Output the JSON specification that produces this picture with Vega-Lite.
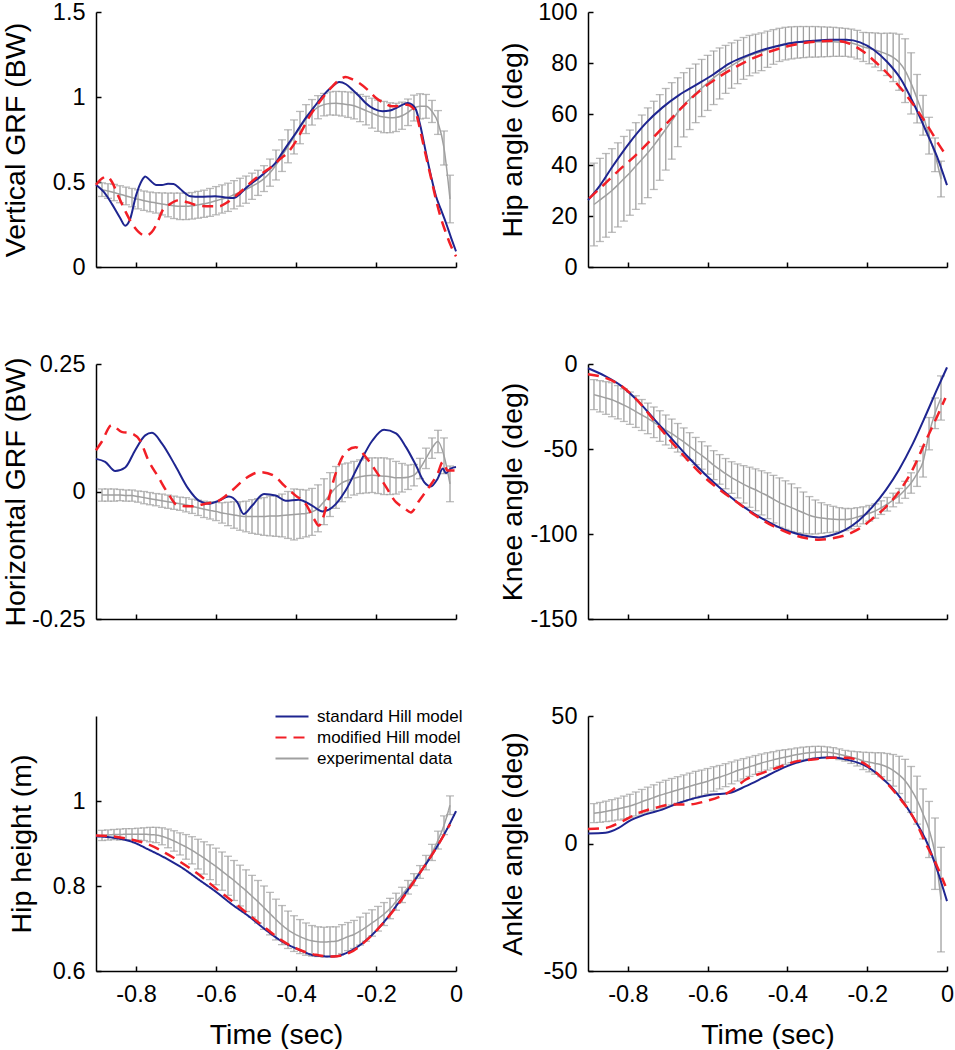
{
"$schema": "https://vega.github.io/schema/vega-lite/v6.json",
"padding": {"left": 0, "top": 0, "right": 0, "bottom": 0},
"autosize": {"type": "pad"},
"bounds": "flush",
"columns": 2,
"spacing": {"row": 97, "column": 132},
"resolve": {"scale": {"color": "independent", "strokeDash": "independent"}, "legend": {"color": "independent", "strokeDash": "independent"}},
"concat": [
  {"width": 360, "height": 255,
   "encoding": {"x": {"field": "t", "type": "quantitative", "scale": {"domain": [-0.9, 0], "nice": false, "zero": false}, "axis": {"values": [-0.8, -0.6, -0.4, -0.2, 0], "labels": false, "title": null}}},
   "layer": [
    {"data": {"name": "exp"}, "mark": {"type": "errorbar", "color": "#a0a0a0", "thickness": 1.3, "ticks": {"size": 8, "thickness": 1.3, "color": "#a0a0a0"}},
     "encoding": {"y": {"field": "vg_m", "type": "quantitative", "scale": {"domain": [0, 1.5], "nice": false, "zero": false}, "axis": {"values": [0, 0.5, 1, 1.5], "title": "Vertical GRF (BW)", "titlePadding": 66, "labelExpr": "''+datum.value"}}, "yError": {"field": "vg_e"}}},
    {"data": {"name": "exp"}, "mark": {"type": "line", "color": "#a0a0a0", "strokeWidth": 1.5},
     "encoding": {"y": {"field": "vg_m", "type": "quantitative", "scale": {"domain": [0, 1.5], "nice": false, "zero": false}}}},
    {"data": {"name": "vg_s"}, "mark": {"type": "line", "color": "#1e2590", "strokeWidth": 2},
     "encoding": {"y": {"field": "v", "type": "quantitative", "scale": {"domain": [0, 1.5], "nice": false, "zero": false}}}},
    {"data": {"name": "vg_m"}, "mark": {"type": "line", "color": "#f21f26", "strokeWidth": 2.5, "strokeDash": [11, 7]},
     "encoding": {"y": {"field": "v", "type": "quantitative", "scale": {"domain": [0, 1.5], "nice": false, "zero": false}}}}
   ]},
  {"width": 359, "height": 255,
   "encoding": {"x": {"field": "t", "type": "quantitative", "scale": {"domain": [-0.9, 0], "nice": false, "zero": false}, "axis": {"values": [-0.8, -0.6, -0.4, -0.2, 0], "labels": false, "title": null}}},
   "layer": [
    {"data": {"name": "exp"}, "mark": {"type": "errorbar", "color": "#a0a0a0", "thickness": 1.3, "ticks": {"size": 8, "thickness": 1.3, "color": "#a0a0a0"}},
     "encoding": {"y": {"field": "ha_m", "type": "quantitative", "scale": {"domain": [0, 100], "nice": false, "zero": false}, "axis": {"values": [0, 20, 40, 60, 80, 100], "title": "Hip angle (deg)", "titlePadding": 61, "labelExpr": "''+datum.value"}}, "yError": {"field": "ha_e"}}},
    {"data": {"name": "exp"}, "mark": {"type": "line", "color": "#a0a0a0", "strokeWidth": 1.5},
     "encoding": {"y": {"field": "ha_m", "type": "quantitative", "scale": {"domain": [0, 100], "nice": false, "zero": false}}}},
    {"data": {"name": "ha_s"}, "mark": {"type": "line", "color": "#1e2590", "strokeWidth": 2},
     "encoding": {"y": {"field": "v", "type": "quantitative", "scale": {"domain": [0, 100], "nice": false, "zero": false}}}},
    {"data": {"name": "ha_m"}, "mark": {"type": "line", "color": "#f21f26", "strokeWidth": 2.5, "strokeDash": [11, 7]},
     "encoding": {"y": {"field": "v", "type": "quantitative", "scale": {"domain": [0, 100], "nice": false, "zero": false}}}}
   ]},
  {"width": 360, "height": 255,
   "encoding": {"x": {"field": "t", "type": "quantitative", "scale": {"domain": [-0.9, 0], "nice": false, "zero": false}, "axis": {"values": [-0.8, -0.6, -0.4, -0.2, 0], "labels": false, "title": null}}},
   "layer": [
    {"data": {"name": "exp"}, "mark": {"type": "errorbar", "color": "#a0a0a0", "thickness": 1.3, "ticks": {"size": 8, "thickness": 1.3, "color": "#a0a0a0"}},
     "encoding": {"y": {"field": "hg_m", "type": "quantitative", "scale": {"domain": [-0.25, 0.25], "nice": false, "zero": false}, "axis": {"values": [-0.25, 0, 0.25], "title": "Horizontal GRF (BW)", "titlePadding": 66, "labelExpr": "''+datum.value"}}, "yError": {"field": "hg_e"}}},
    {"data": {"name": "exp"}, "mark": {"type": "line", "color": "#a0a0a0", "strokeWidth": 1.5},
     "encoding": {"y": {"field": "hg_m", "type": "quantitative", "scale": {"domain": [-0.25, 0.25], "nice": false, "zero": false}}}},
    {"data": {"values": [{"zero": 0}]}, "mark": {"type": "rule", "color": "#000000", "strokeWidth": 1}, "encoding": {"y": {"field": "zero", "type": "quantitative", "scale": {"domain": [-0.25, 0.25], "nice": false, "zero": false}}}},
    {"data": {"name": "hg_s"}, "mark": {"type": "line", "color": "#1e2590", "strokeWidth": 2},
     "encoding": {"y": {"field": "v", "type": "quantitative", "scale": {"domain": [-0.25, 0.25], "nice": false, "zero": false}}}},
    {"data": {"name": "hg_m"}, "mark": {"type": "line", "color": "#f21f26", "strokeWidth": 2.5, "strokeDash": [11, 7]},
     "encoding": {"y": {"field": "v", "type": "quantitative", "scale": {"domain": [-0.25, 0.25], "nice": false, "zero": false}}}}
   ]},
  {"width": 359, "height": 255,
   "encoding": {"x": {"field": "t", "type": "quantitative", "scale": {"domain": [-0.9, 0], "nice": false, "zero": false}, "axis": {"values": [-0.8, -0.6, -0.4, -0.2, 0], "labels": false, "title": null}}},
   "layer": [
    {"data": {"name": "exp"}, "mark": {"type": "errorbar", "color": "#a0a0a0", "thickness": 1.3, "ticks": {"size": 8, "thickness": 1.3, "color": "#a0a0a0"}},
     "encoding": {"y": {"field": "ka_m", "type": "quantitative", "scale": {"domain": [-150, 0], "nice": false, "zero": false}, "axis": {"values": [-150, -100, -50, 0], "title": "Knee angle (deg)", "titlePadding": 61, "labelExpr": "''+datum.value"}}, "yError": {"field": "ka_e"}}},
    {"data": {"name": "exp"}, "mark": {"type": "line", "color": "#a0a0a0", "strokeWidth": 1.5},
     "encoding": {"y": {"field": "ka_m", "type": "quantitative", "scale": {"domain": [-150, 0], "nice": false, "zero": false}}}},
    {"data": {"name": "ka_s"}, "mark": {"type": "line", "color": "#1e2590", "strokeWidth": 2},
     "encoding": {"y": {"field": "v", "type": "quantitative", "scale": {"domain": [-150, 0], "nice": false, "zero": false}}}},
    {"data": {"name": "ka_m"}, "mark": {"type": "line", "color": "#f21f26", "strokeWidth": 2.5, "strokeDash": [11, 7]},
     "encoding": {"y": {"field": "v", "type": "quantitative", "scale": {"domain": [-150, 0], "nice": false, "zero": false}}}}
   ]},
  {"width": 360, "height": 255,
   "encoding": {"x": {"field": "t", "type": "quantitative", "scale": {"domain": [-0.9, 0], "nice": false, "zero": false}, "axis": {"values": [-0.8, -0.6, -0.4, -0.2, 0], "title": "Time (sec)", "labelExpr": "''+datum.value"}}},
   "layer": [
    {"data": {"name": "exp"}, "mark": {"type": "errorbar", "color": "#a0a0a0", "thickness": 1.3, "ticks": {"size": 8, "thickness": 1.3, "color": "#a0a0a0"}},
     "encoding": {"y": {"field": "hh_m", "type": "quantitative", "scale": {"domain": [0.6, 1.2], "nice": false, "zero": false}, "axis": {"values": [0.6, 0.8, 1], "title": "Hip height (m)", "titlePadding": 60, "labelExpr": "''+datum.value"}}, "yError": {"field": "hh_e"}}},
    {"data": {"name": "exp"}, "mark": {"type": "line", "strokeWidth": 1.5},
     "encoding": {"y": {"field": "hh_m", "type": "quantitative", "scale": {"domain": [0.6, 1.2], "nice": false, "zero": false}},
      "color": {"datum": "experimental data", "type": "nominal", "scale": {"domain": ["standard Hill model", "modified Hill model", "experimental data"], "range": ["#1e2590", "#f21f26", "#a0a0a0"]}, "legend": {"orient": "none", "legendX": 178, "legendY": -8, "title": null, "symbolType": "stroke", "symbolSize": 1089, "symbolStrokeWidth": 2.2, "labelFontSize": 17, "labelColor": "#000000", "labelFont": "Liberation Sans", "labelOffset": 7, "rowPadding": 3, "clipHeight": 17, "padding": 0, "labelLimit": 400}},
      "strokeDash": {"datum": "experimental data", "type": "nominal", "scale": {"domain": ["standard Hill model", "modified Hill model", "experimental data"], "range": [[1, 0], [11, 7], [1, 0]]}, "legend": {"orient": "none", "legendX": 178, "legendY": -8, "title": null, "symbolType": "stroke", "symbolSize": 1089, "symbolStrokeWidth": 2.2, "labelFontSize": 17, "labelColor": "#000000", "labelFont": "Liberation Sans", "labelOffset": 7, "rowPadding": 3, "clipHeight": 17, "padding": 0, "labelLimit": 400}}}},
    {"data": {"name": "hh_s"}, "mark": {"type": "line", "strokeWidth": 2},
     "encoding": {"y": {"field": "v", "type": "quantitative", "scale": {"domain": [0.6, 1.2], "nice": false, "zero": false}},
      "color": {"datum": "standard Hill model", "type": "nominal"},
      "strokeDash": {"datum": "standard Hill model", "type": "nominal"}}},
    {"data": {"name": "hh_m"}, "mark": {"type": "line", "strokeWidth": 2.5},
     "encoding": {"y": {"field": "v", "type": "quantitative", "scale": {"domain": [0.6, 1.2], "nice": false, "zero": false}},
      "color": {"datum": "modified Hill model", "type": "nominal"},
      "strokeDash": {"datum": "modified Hill model", "type": "nominal"}}}
   ]},
  {"width": 359, "height": 255,
   "encoding": {"x": {"field": "t", "type": "quantitative", "scale": {"domain": [-0.9, 0], "nice": false, "zero": false}, "axis": {"values": [-0.8, -0.6, -0.4, -0.2, 0], "title": "Time (sec)", "labelExpr": "''+datum.value"}}},
   "layer": [
    {"data": {"name": "exp"}, "mark": {"type": "errorbar", "color": "#a0a0a0", "thickness": 1.3, "ticks": {"size": 8, "thickness": 1.3, "color": "#a0a0a0"}},
     "encoding": {"y": {"field": "aa_m", "type": "quantitative", "scale": {"domain": [-50, 50], "nice": false, "zero": false}, "axis": {"values": [-50, 0, 50], "title": "Ankle angle (deg)", "titlePadding": 61, "labelExpr": "''+datum.value"}}, "yError": {"field": "aa_e"}}},
    {"data": {"name": "exp"}, "mark": {"type": "line", "color": "#a0a0a0", "strokeWidth": 1.5},
     "encoding": {"y": {"field": "aa_m", "type": "quantitative", "scale": {"domain": [-50, 50], "nice": false, "zero": false}}}},
    {"data": {"name": "aa_s"}, "mark": {"type": "line", "color": "#1e2590", "strokeWidth": 2},
     "encoding": {"y": {"field": "v", "type": "quantitative", "scale": {"domain": [-50, 50], "nice": false, "zero": false}}}},
    {"data": {"name": "aa_m"}, "mark": {"type": "line", "color": "#f21f26", "strokeWidth": 2.5, "strokeDash": [11, 7]},
     "encoding": {"y": {"field": "v", "type": "quantitative", "scale": {"domain": [-50, 50], "nice": false, "zero": false}}}}
   ]}
],
"datasets": {
 "exp": [
  {"t":-0.885,"vg_m":0.455,"vg_e":0.04,"ha_m":24.5,"ha_e":16.2,"hg_m":-0.007,"hg_e":0.012,"ka_m":-18,"ka_e":8.8,"hh_m":0.919,"hh_e":0.012,"aa_m":11.9,"aa_e":3.7},
  {"t":-0.87,"vg_m":0.447,"vg_e":0.043,"ha_m":26.3,"ha_e":16.3,"hg_m":-0.007,"hg_e":0.012,"ka_m":-19,"ka_e":9.2,"hh_m":0.92,"hh_e":0.012,"aa_m":12.2,"aa_e":3.9},
  {"t":-0.855,"vg_m":0.438,"vg_e":0.048,"ha_m":28.1,"ha_e":16.4,"hg_m":-0.007,"hg_e":0.012,"ka_m":-20,"ka_e":9.6,"hh_m":0.921,"hh_e":0.012,"aa_m":12.6,"aa_e":4.0},
  {"t":-0.84,"vg_m":0.428,"vg_e":0.05,"ha_m":30.0,"ha_e":16.4,"hg_m":-0.007,"hg_e":0.011,"ka_m":-21,"ka_e":10,"hh_m":0.921,"hh_e":0.013,"aa_m":13.0,"aa_e":4.2},
  {"t":-0.825,"vg_m":0.418,"vg_e":0.052,"ha_m":32.2,"ha_e":16.5,"hg_m":-0.008,"hg_e":0.011,"ka_m":-22.5,"ka_e":9.8,"hh_m":0.922,"hh_e":0.013,"aa_m":13.5,"aa_e":4.3},
  {"t":-0.81,"vg_m":0.408,"vg_e":0.054,"ha_m":34.6,"ha_e":16.6,"hg_m":-0.008,"hg_e":0.011,"ka_m":-24.2,"ka_e":9.6,"hh_m":0.922,"hh_e":0.013,"aa_m":14.1,"aa_e":4.5},
  {"t":-0.795,"vg_m":0.398,"vg_e":0.056,"ha_m":37.0,"ha_e":16.7,"hg_m":-0.01,"hg_e":0.011,"ka_m":-26,"ka_e":9.5,"hh_m":0.922,"hh_e":0.014,"aa_m":14.7,"aa_e":4.6},
  {"t":-0.78,"vg_m":0.39,"vg_e":0.057,"ha_m":39.6,"ha_e":17.0,"hg_m":-0.012,"hg_e":0.012,"ka_m":-28,"ka_e":9.3,"hh_m":0.922,"hh_e":0.015,"aa_m":15.5,"aa_e":4.7},
  {"t":-0.765,"vg_m":0.383,"vg_e":0.058,"ha_m":42.2,"ha_e":17.4,"hg_m":-0.014,"hg_e":0.012,"ka_m":-30,"ka_e":9.1,"hh_m":0.921,"hh_e":0.017,"aa_m":16.4,"aa_e":4.8},
  {"t":-0.75,"vg_m":0.377,"vg_e":0.06,"ha_m":44.8,"ha_e":17.6,"hg_m":-0.016,"hg_e":0.012,"ka_m":-32,"ka_e":9,"hh_m":0.92,"hh_e":0.018,"aa_m":17.2,"aa_e":4.9},
  {"t":-0.735,"vg_m":0.371,"vg_e":0.065,"ha_m":47.7,"ha_e":17.3,"hg_m":-0.018,"hg_e":0.013,"ka_m":-34.3,"ka_e":9,"hh_m":0.917,"hh_e":0.02,"aa_m":18.0,"aa_e":5.0},
  {"t":-0.72,"vg_m":0.365,"vg_e":0.07,"ha_m":50.8,"ha_e":16.8,"hg_m":-0.02,"hg_e":0.013,"ka_m":-36.5,"ka_e":9,"hh_m":0.912,"hh_e":0.022,"aa_m":18.9,"aa_e":5.1},
  {"t":-0.705,"vg_m":0.36,"vg_e":0.075,"ha_m":54.0,"ha_e":16.0,"hg_m":-0.022,"hg_e":0.013,"ka_m":-38.8,"ka_e":8.8,"hh_m":0.906,"hh_e":0.024,"aa_m":19.6,"aa_e":5.2},
  {"t":-0.69,"vg_m":0.357,"vg_e":0.078,"ha_m":57.3,"ha_e":15.0,"hg_m":-0.024,"hg_e":0.013,"ka_m":-41,"ka_e":8.6,"hh_m":0.899,"hh_e":0.026,"aa_m":20.3,"aa_e":5.2},
  {"t":-0.675,"vg_m":0.357,"vg_e":0.078,"ha_m":60.7,"ha_e":13.5,"hg_m":-0.026,"hg_e":0.014,"ka_m":-43.4,"ka_e":8.4,"hh_m":0.892,"hh_e":0.029,"aa_m":21.0,"aa_e":5.2},
  {"t":-0.66,"vg_m":0.36,"vg_e":0.078,"ha_m":63.6,"ha_e":12.6,"hg_m":-0.029,"hg_e":0.014,"ka_m":-45.8,"ka_e":8.2,"hh_m":0.884,"hh_e":0.032,"aa_m":21.7,"aa_e":5.2},
  {"t":-0.645,"vg_m":0.366,"vg_e":0.079,"ha_m":65.9,"ha_e":12.0,"hg_m":-0.032,"hg_e":0.015,"ka_m":-48.5,"ka_e":8.1,"hh_m":0.875,"hh_e":0.035,"aa_m":22.4,"aa_e":5.2},
  {"t":-0.63,"vg_m":0.372,"vg_e":0.08,"ha_m":68.1,"ha_e":11.5,"hg_m":-0.035,"hg_e":0.016,"ka_m":-51.2,"ka_e":8,"hh_m":0.866,"hh_e":0.038,"aa_m":23.1,"aa_e":5.2},
  {"t":-0.615,"vg_m":0.38,"vg_e":0.082,"ha_m":70.2,"ha_e":11.2,"hg_m":-0.037,"hg_e":0.017,"ka_m":-53.8,"ka_e":8.1,"hh_m":0.856,"hh_e":0.041,"aa_m":23.7,"aa_e":5.1},
  {"t":-0.6,"vg_m":0.39,"vg_e":0.083,"ha_m":72.2,"ha_e":10.8,"hg_m":-0.039,"hg_e":0.018,"ka_m":-56.5,"ka_e":8.3,"hh_m":0.846,"hh_e":0.043,"aa_m":24.4,"aa_e":5.0},
  {"t":-0.585,"vg_m":0.4,"vg_e":0.083,"ha_m":74.2,"ha_e":10.5,"hg_m":-0.042,"hg_e":0.02,"ka_m":-59.5,"ka_e":8.5,"hh_m":0.835,"hh_e":0.045,"aa_m":25.3,"aa_e":4.8},
  {"t":-0.57,"vg_m":0.41,"vg_e":0.083,"ha_m":75.9,"ha_e":10.0,"hg_m":-0.044,"hg_e":0.023,"ka_m":-62,"ka_e":8.7,"hh_m":0.824,"hh_e":0.046,"aa_m":26.0,"aa_e":4.6},
  {"t":-0.555,"vg_m":0.425,"vg_e":0.083,"ha_m":77.5,"ha_e":9.4,"hg_m":-0.046,"hg_e":0.026,"ka_m":-64.5,"ka_e":8.9,"hh_m":0.813,"hh_e":0.047,"aa_m":26.8,"aa_e":4.5},
  {"t":-0.54,"vg_m":0.44,"vg_e":0.082,"ha_m":79.0,"ha_e":8.9,"hg_m":-0.048,"hg_e":0.028,"ka_m":-66.8,"ka_e":9.3,"hh_m":0.801,"hh_e":0.048,"aa_m":27.7,"aa_e":4.3},
  {"t":-0.525,"vg_m":0.455,"vg_e":0.08,"ha_m":80.4,"ha_e":8.5,"hg_m":-0.049,"hg_e":0.03,"ka_m":-68.8,"ka_e":10,"hh_m":0.789,"hh_e":0.049,"aa_m":28.6,"aa_e":4.1},
  {"t":-0.51,"vg_m":0.475,"vg_e":0.077,"ha_m":81.8,"ha_e":8.2,"hg_m":-0.049,"hg_e":0.033,"ka_m":-70.8,"ka_e":11,"hh_m":0.776,"hh_e":0.049,"aa_m":29.3,"aa_e":4.0},
  {"t":-0.495,"vg_m":0.495,"vg_e":0.074,"ha_m":82.9,"ha_e":7.9,"hg_m":-0.049,"hg_e":0.035,"ka_m":-72.5,"ka_e":11.8,"hh_m":0.763,"hh_e":0.05,"aa_m":30.1,"aa_e":3.8},
  {"t":-0.48,"vg_m":0.52,"vg_e":0.076,"ha_m":83.7,"ha_e":7.6,"hg_m":-0.049,"hg_e":0.037,"ka_m":-74,"ka_e":12.3,"hh_m":0.749,"hh_e":0.051,"aa_m":30.8,"aa_e":3.7},
  {"t":-0.465,"vg_m":0.555,"vg_e":0.08,"ha_m":84.4,"ha_e":7.4,"hg_m":-0.048,"hg_e":0.039,"ka_m":-75.8,"ka_e":13,"hh_m":0.735,"hh_e":0.05,"aa_m":31.6,"aa_e":3.5},
  {"t":-0.45,"vg_m":0.6,"vg_e":0.088,"ha_m":85.4,"ha_e":7.1,"hg_m":-0.048,"hg_e":0.04,"ka_m":-77.5,"ka_e":13.5,"hh_m":0.721,"hh_e":0.048,"aa_m":32.2,"aa_e":3.4},
  {"t":-0.435,"vg_m":0.655,"vg_e":0.093,"ha_m":86.3,"ha_e":6.8,"hg_m":-0.047,"hg_e":0.042,"ka_m":-79.5,"ka_e":14,"hh_m":0.708,"hh_e":0.046,"aa_m":32.8,"aa_e":3.2},
  {"t":-0.42,"vg_m":0.71,"vg_e":0.097,"ha_m":87.1,"ha_e":6.5,"hg_m":-0.046,"hg_e":0.046,"ka_m":-81.5,"ka_e":14.5,"hh_m":0.697,"hh_e":0.044,"aa_m":33.4,"aa_e":3.1},
  {"t":-0.405,"vg_m":0.765,"vg_e":0.1,"ha_m":87.6,"ha_e":6.4,"hg_m":-0.045,"hg_e":0.05,"ka_m":-83,"ka_e":14.3,"hh_m":0.688,"hh_e":0.042,"aa_m":33.9,"aa_e":2.9},
  {"t":-0.39,"vg_m":0.82,"vg_e":0.095,"ha_m":87.9,"ha_e":6.3,"hg_m":-0.044,"hg_e":0.048,"ka_m":-84.5,"ka_e":14,"hh_m":0.681,"hh_e":0.04,"aa_m":34.4,"aa_e":2.7},
  {"t":-0.375,"vg_m":0.87,"vg_e":0.085,"ha_m":88.1,"ha_e":6.2,"hg_m":-0.043,"hg_e":0.046,"ka_m":-86,"ka_e":13.2,"hh_m":0.675,"hh_e":0.038,"aa_m":34.9,"aa_e":2.6},
  {"t":-0.36,"vg_m":0.91,"vg_e":0.075,"ha_m":88.2,"ha_e":6.1,"hg_m":-0.04,"hg_e":0.046,"ka_m":-87.5,"ka_e":12.2,"hh_m":0.671,"hh_e":0.036,"aa_m":35.3,"aa_e":2.5},
  {"t":-0.345,"vg_m":0.94,"vg_e":0.068,"ha_m":88.3,"ha_e":6.0,"hg_m":-0.033,"hg_e":0.046,"ka_m":-89,"ka_e":11,"hh_m":0.669,"hh_e":0.035,"aa_m":35.6,"aa_e":2.4},
  {"t":-0.33,"vg_m":0.955,"vg_e":0.066,"ha_m":88.3,"ha_e":6.0,"hg_m":-0.02,"hg_e":0.045,"ka_m":-90,"ka_e":10,"hh_m":0.668,"hh_e":0.035,"aa_m":35.8,"aa_e":2.3},
  {"t":-0.315,"vg_m":0.962,"vg_e":0.068,"ha_m":88.3,"ha_e":5.9,"hg_m":-0.006,"hg_e":0.043,"ka_m":-90.6,"ka_e":9,"hh_m":0.669,"hh_e":0.035,"aa_m":35.9,"aa_e":2.2},
  {"t":-0.3,"vg_m":0.963,"vg_e":0.07,"ha_m":88.3,"ha_e":5.8,"hg_m":0.008,"hg_e":0.041,"ka_m":-91,"ka_e":8.2,"hh_m":0.67,"hh_e":0.034,"aa_m":35.8,"aa_e":2.1},
  {"t":-0.285,"vg_m":0.96,"vg_e":0.072,"ha_m":88.3,"ha_e":5.7,"hg_m":0.017,"hg_e":0.037,"ka_m":-91.3,"ka_e":7.6,"hh_m":0.675,"hh_e":0.034,"aa_m":35.5,"aa_e":2.1},
  {"t":-0.27,"vg_m":0.955,"vg_e":0.075,"ha_m":88.2,"ha_e":5.6,"hg_m":0.022,"hg_e":0.034,"ka_m":-91.5,"ka_e":7,"hh_m":0.681,"hh_e":0.033,"aa_m":35.0,"aa_e":2.1},
  {"t":-0.255,"vg_m":0.948,"vg_e":0.077,"ha_m":88.1,"ha_e":5.5,"hg_m":0.026,"hg_e":0.033,"ka_m":-91.5,"ka_e":6.5,"hh_m":0.686,"hh_e":0.033,"aa_m":34.4,"aa_e":2.1},
  {"t":-0.24,"vg_m":0.935,"vg_e":0.08,"ha_m":87.8,"ha_e":5.5,"hg_m":0.029,"hg_e":0.033,"ka_m":-91,"ka_e":6,"hh_m":0.694,"hh_e":0.033,"aa_m":33.8,"aa_e":2.4},
  {"t":-0.225,"vg_m":0.92,"vg_e":0.084,"ha_m":87.2,"ha_e":5.6,"hg_m":0.031,"hg_e":0.034,"ka_m":-90,"ka_e":5.5,"hh_m":0.703,"hh_e":0.033,"aa_m":33.2,"aa_e":2.8},
  {"t":-0.21,"vg_m":0.905,"vg_e":0.088,"ha_m":86.3,"ha_e":5.7,"hg_m":0.032,"hg_e":0.034,"ka_m":-89,"ka_e":5,"hh_m":0.713,"hh_e":0.031,"aa_m":32.4,"aa_e":3.4},
  {"t":-0.195,"vg_m":0.89,"vg_e":0.092,"ha_m":85.8,"ha_e":6.1,"hg_m":0.031,"hg_e":0.035,"ka_m":-87.8,"ka_e":4.6,"hh_m":0.723,"hh_e":0.029,"aa_m":31.9,"aa_e":3.8},
  {"t":-0.18,"vg_m":0.882,"vg_e":0.092,"ha_m":85.1,"ha_e":6.7,"hg_m":0.03,"hg_e":0.036,"ka_m":-86.5,"ka_e":4.2,"hh_m":0.734,"hh_e":0.027,"aa_m":31.4,"aa_e":4.2},
  {"t":-0.165,"vg_m":0.878,"vg_e":0.088,"ha_m":84.3,"ha_e":7.3,"hg_m":0.029,"hg_e":0.035,"ka_m":-84.5,"ka_e":4,"hh_m":0.747,"hh_e":0.024,"aa_m":30.9,"aa_e":4.7},
  {"t":-0.15,"vg_m":0.88,"vg_e":0.083,"ha_m":83.4,"ha_e":8.3,"hg_m":0.027,"hg_e":0.032,"ka_m":-82.5,"ka_e":4,"hh_m":0.763,"hh_e":0.02,"aa_m":30.0,"aa_e":5.3},
  {"t":-0.135,"vg_m":0.89,"vg_e":0.08,"ha_m":82.2,"ha_e":9.5,"hg_m":0.027,"hg_e":0.028,"ka_m":-80,"ka_e":4,"hh_m":0.779,"hh_e":0.018,"aa_m":28.7,"aa_e":6.2},
  {"t":-0.12,"vg_m":0.91,"vg_e":0.078,"ha_m":80.3,"ha_e":11.0,"hg_m":0.028,"hg_e":0.024,"ka_m":-77.5,"ka_e":4.3,"hh_m":0.797,"hh_e":0.016,"aa_m":26.9,"aa_e":7.3},
  {"t":-0.105,"vg_m":0.935,"vg_e":0.076,"ha_m":77.0,"ha_e":12.5,"hg_m":0.032,"hg_e":0.021,"ka_m":-74,"ka_e":5,"hh_m":0.815,"hh_e":0.014,"aa_m":24.6,"aa_e":8.4},
  {"t":-0.09,"vg_m":0.945,"vg_e":0.074,"ha_m":72.0,"ha_e":12.0,"hg_m":0.045,"hg_e":0.02,"ka_m":-70,"ka_e":6,"hh_m":0.833,"hh_e":0.015,"aa_m":21.2,"aa_e":9.0},
  {"t":-0.075,"vg_m":0.945,"vg_e":0.07,"ha_m":66.0,"ha_e":9.5,"hg_m":0.065,"hg_e":0.02,"ka_m":-64.5,"ka_e":7.5,"hh_m":0.855,"hh_e":0.017,"aa_m":17.0,"aa_e":9.4},
  {"t":-0.06,"vg_m":0.915,"vg_e":0.065,"ha_m":59.5,"ha_e":7.8,"hg_m":0.085,"hg_e":0.02,"ka_m":-57.5,"ka_e":9,"hh_m":0.879,"hh_e":0.019,"aa_m":11.6,"aa_e":9.8},
  {"t":-0.045,"vg_m":0.85,"vg_e":0.07,"ha_m":51.5,"ha_e":7.2,"hg_m":0.098,"hg_e":0.022,"ka_m":-41,"ka_e":9.5,"hh_m":0.908,"hh_e":0.021,"aa_m":5.5,"aa_e":11},
  {"t":-0.03,"vg_m":0.7,"vg_e":0.1,"ha_m":44.0,"ha_e":6.6,"hg_m":0.07,"hg_e":0.035,"ka_m":-29,"ka_e":9,"hh_m":0.943,"hh_e":0.022,"aa_m":-4,"aa_e":14},
  {"t":-0.015,"vg_m":0.4,"vg_e":0.14,"ha_m":34.5,"ha_e":7.0,"hg_m":0.015,"hg_e":0.035,"ka_m":-20,"ka_e":13,"hh_m":0.99,"hh_e":0.022,"aa_m":-22,"aa_e":20.5}
 ],
 "vg_s": [{"t":-0.9,"v":0.484},{"t":-0.88,"v":0.44},{"t":-0.86,"v":0.37},{"t":-0.84,"v":0.29},{"t":-0.827,"v":0.243},{"t":-0.815,"v":0.28},{"t":-0.8,"v":0.42},{"t":-0.785,"v":0.51},{"t":-0.777,"v":0.533},{"t":-0.765,"v":0.51},{"t":-0.75,"v":0.483},{"t":-0.735,"v":0.482},{"t":-0.72,"v":0.49},{"t":-0.706,"v":0.488},{"t":-0.69,"v":0.46},{"t":-0.675,"v":0.43},{"t":-0.664,"v":0.416},{"t":-0.64,"v":0.413},{"t":-0.62,"v":0.414},{"t":-0.602,"v":0.416},{"t":-0.58,"v":0.41},{"t":-0.556,"v":0.406},{"t":-0.54,"v":0.43},{"t":-0.525,"v":0.465},{"t":-0.51,"v":0.494},{"t":-0.49,"v":0.53},{"t":-0.47,"v":0.57},{"t":-0.451,"v":0.612},{"t":-0.435,"v":0.67},{"t":-0.418,"v":0.729},{"t":-0.4,"v":0.79},{"t":-0.376,"v":0.876},{"t":-0.355,"v":0.94},{"t":-0.334,"v":1.004},{"t":-0.31,"v":1.06},{"t":-0.292,"v":1.088},{"t":-0.275,"v":1.075},{"t":-0.259,"v":1.043},{"t":-0.24,"v":1.0},{"t":-0.226,"v":0.965},{"t":-0.205,"v":0.93},{"t":-0.184,"v":0.916},{"t":-0.165,"v":0.92},{"t":-0.15,"v":0.935},{"t":-0.13,"v":0.958},{"t":-0.121,"v":0.965},{"t":-0.11,"v":0.955},{"t":-0.1,"v":0.925},{"t":-0.09,"v":0.84},{"t":-0.075,"v":0.671},{"t":-0.062,"v":0.53},{"t":-0.05,"v":0.416},{"t":-0.038,"v":0.34},{"t":-0.025,"v":0.259},{"t":-0.012,"v":0.17},{"t":0,"v":0.092}],
 "vg_m": [{"t":-0.9,"v":0.484},{"t":-0.885,"v":0.52},{"t":-0.873,"v":0.533},{"t":-0.86,"v":0.5},{"t":-0.844,"v":0.416},{"t":-0.827,"v":0.33},{"t":-0.811,"v":0.259},{"t":-0.795,"v":0.21},{"t":-0.777,"v":0.184},{"t":-0.765,"v":0.195},{"t":-0.756,"v":0.22},{"t":-0.745,"v":0.27},{"t":-0.735,"v":0.327},{"t":-0.715,"v":0.37},{"t":-0.694,"v":0.392},{"t":-0.67,"v":0.38},{"t":-0.643,"v":0.361},{"t":-0.615,"v":0.357},{"t":-0.593,"v":0.357},{"t":-0.572,"v":0.38},{"t":-0.552,"v":0.416},{"t":-0.53,"v":0.46},{"t":-0.51,"v":0.504},{"t":-0.485,"v":0.55},{"t":-0.46,"v":0.592},{"t":-0.44,"v":0.635},{"t":-0.418,"v":0.68},{"t":-0.4,"v":0.74},{"t":-0.384,"v":0.808},{"t":-0.365,"v":0.89},{"t":-0.343,"v":0.965},{"t":-0.325,"v":1.02},{"t":-0.309,"v":1.063},{"t":-0.292,"v":1.1},{"t":-0.276,"v":1.118},{"t":-0.26,"v":1.105},{"t":-0.242,"v":1.082},{"t":-0.22,"v":1.04},{"t":-0.2,"v":0.994},{"t":-0.18,"v":0.965},{"t":-0.159,"v":0.945},{"t":-0.14,"v":0.948},{"t":-0.121,"v":0.955},{"t":-0.11,"v":0.94},{"t":-0.1,"v":0.906},{"t":-0.088,"v":0.79},{"t":-0.075,"v":0.651},{"t":-0.062,"v":0.52},{"t":-0.05,"v":0.396},{"t":-0.038,"v":0.29},{"t":-0.025,"v":0.2},{"t":-0.012,"v":0.12},{"t":0,"v":0.063}],
 "ha_s": [{"t":-0.9,"v":26.2},{"t":-0.872,"v":31.5},{"t":-0.839,"v":39.3},{"t":-0.797,"v":48.5},{"t":-0.755,"v":56.4},{"t":-0.713,"v":62.6},{"t":-0.671,"v":67.5},{"t":-0.629,"v":71.4},{"t":-0.587,"v":75.4},{"t":-0.545,"v":79.9},{"t":-0.503,"v":82.8},{"t":-0.461,"v":85.2},{"t":-0.419,"v":86.9},{"t":-0.377,"v":88.1},{"t":-0.335,"v":88.7},{"t":-0.293,"v":89.1},{"t":-0.252,"v":89.1},{"t":-0.218,"v":88.1},{"t":-0.184,"v":85.2},{"t":-0.151,"v":80.6},{"t":-0.117,"v":74.0},{"t":-0.084,"v":64.2},{"t":-0.05,"v":52.4},{"t":-0.025,"v":43.3},{"t":0,"v":32.1}],
 "ha_m": [{"t":-0.897,"v":26.9},{"t":-0.864,"v":31.7},{"t":-0.822,"v":38.0},{"t":-0.78,"v":43.9},{"t":-0.738,"v":50.5},{"t":-0.696,"v":57.4},{"t":-0.654,"v":64.2},{"t":-0.612,"v":70.1},{"t":-0.57,"v":74.7},{"t":-0.528,"v":78.6},{"t":-0.486,"v":81.9},{"t":-0.444,"v":84.5},{"t":-0.402,"v":86.5},{"t":-0.361,"v":87.8},{"t":-0.319,"v":88.5},{"t":-0.277,"v":88.7},{"t":-0.243,"v":87.5},{"t":-0.21,"v":84.5},{"t":-0.176,"v":79.9},{"t":-0.142,"v":74.7},{"t":-0.109,"v":68.8},{"t":-0.075,"v":61.6},{"t":-0.042,"v":53.7},{"t":-0.017,"v":47.2},{"t":0,"v":43.3}],
 "hg_s": [{"t":-0.9,"v":0.064},{"t":-0.877,"v":0.058},{"t":-0.852,"v":0.04},{"t":-0.827,"v":0.047},{"t":-0.802,"v":0.081},{"t":-0.777,"v":0.11},{"t":-0.76,"v":0.115},{"t":-0.735,"v":0.094},{"t":-0.702,"v":0.051},{"t":-0.669,"v":0.005},{"t":-0.643,"v":-0.018},{"t":-0.618,"v":-0.024},{"t":-0.593,"v":-0.018},{"t":-0.568,"v":-0.01},{"t":-0.547,"v":-0.021},{"t":-0.531,"v":-0.044},{"t":-0.51,"v":-0.028},{"t":-0.48,"v":-0.005},{"t":-0.451,"v":-0.008},{"t":-0.426,"v":-0.018},{"t":-0.393,"v":-0.016},{"t":-0.359,"v":-0.028},{"t":-0.334,"v":-0.039},{"t":-0.309,"v":-0.031},{"t":-0.276,"v":0.002},{"t":-0.242,"v":0.054},{"t":-0.209,"v":0.1},{"t":-0.18,"v":0.121},{"t":-0.15,"v":0.114},{"t":-0.125,"v":0.087},{"t":-0.1,"v":0.051},{"t":-0.079,"v":0.018},{"t":-0.063,"v":0.01},{"t":-0.046,"v":0.025},{"t":-0.033,"v":0.045},{"t":-0.025,"v":0.036},{"t":-0.013,"v":0.045},{"t":0,"v":0.048}],
 "hg_m": [{"t":-0.9,"v":0.081},{"t":-0.886,"v":0.097},{"t":-0.861,"v":0.13},{"t":-0.836,"v":0.117},{"t":-0.811,"v":0.114},{"t":-0.79,"v":0.1},{"t":-0.769,"v":0.061},{"t":-0.744,"v":0.028},{"t":-0.719,"v":-0.005},{"t":-0.694,"v":-0.028},{"t":-0.66,"v":-0.029},{"t":-0.627,"v":-0.024},{"t":-0.593,"v":-0.018},{"t":-0.56,"v":0.002},{"t":-0.527,"v":0.025},{"t":-0.489,"v":0.038},{"t":-0.455,"v":0.031},{"t":-0.43,"v":0.012},{"t":-0.401,"v":-0.008},{"t":-0.376,"v":-0.024},{"t":-0.355,"v":-0.054},{"t":-0.343,"v":-0.067},{"t":-0.322,"v":-0.024},{"t":-0.301,"v":0.035},{"t":-0.276,"v":0.077},{"t":-0.251,"v":0.087},{"t":-0.226,"v":0.068},{"t":-0.201,"v":0.041},{"t":-0.175,"v":0.009},{"t":-0.15,"v":-0.021},{"t":-0.13,"v":-0.032},{"t":-0.113,"v":-0.041},{"t":-0.092,"v":-0.018},{"t":-0.067,"v":0.009},{"t":-0.046,"v":0.035},{"t":-0.033,"v":0.058},{"t":-0.021,"v":0.041},{"t":0,"v":0.041}],
 "ka_s": [{"t":-0.9,"v":-2.5},{"t":-0.858,"v":-7},{"t":-0.816,"v":-13},{"t":-0.774,"v":-22},{"t":-0.732,"v":-33},{"t":-0.69,"v":-44},{"t":-0.648,"v":-55},{"t":-0.606,"v":-65},{"t":-0.564,"v":-74},{"t":-0.522,"v":-82},{"t":-0.481,"v":-88.4},{"t":-0.439,"v":-94},{"t":-0.397,"v":-98.4},{"t":-0.355,"v":-101},{"t":-0.321,"v":-102},{"t":-0.288,"v":-100.6},{"t":-0.254,"v":-97.4},{"t":-0.221,"v":-92},{"t":-0.187,"v":-84},{"t":-0.153,"v":-74},{"t":-0.12,"v":-62},{"t":-0.086,"v":-47},{"t":-0.053,"v":-30},{"t":-0.027,"v":-16},{"t":0,"v":-2}],
 "ka_m": [{"t":-0.9,"v":-6},{"t":-0.858,"v":-8},{"t":-0.816,"v":-13},{"t":-0.774,"v":-22},{"t":-0.732,"v":-34},{"t":-0.69,"v":-46},{"t":-0.648,"v":-57},{"t":-0.606,"v":-67},{"t":-0.564,"v":-75},{"t":-0.522,"v":-82},{"t":-0.481,"v":-89},{"t":-0.439,"v":-95},{"t":-0.397,"v":-99.4},{"t":-0.355,"v":-102.4},{"t":-0.321,"v":-103.4},{"t":-0.288,"v":-102.6},{"t":-0.254,"v":-100.6},{"t":-0.221,"v":-97},{"t":-0.187,"v":-91},{"t":-0.153,"v":-84},{"t":-0.12,"v":-75},{"t":-0.086,"v":-62},{"t":-0.053,"v":-45},{"t":-0.027,"v":-32},{"t":-0.004,"v":-20}],
 "hh_s": [{"t":-0.9,"v":0.917},{"t":-0.852,"v":0.913},{"t":-0.81,"v":0.904},{"t":-0.769,"v":0.886},{"t":-0.727,"v":0.866},{"t":-0.685,"v":0.843},{"t":-0.643,"v":0.815},{"t":-0.601,"v":0.787},{"t":-0.559,"v":0.756},{"t":-0.517,"v":0.728},{"t":-0.476,"v":0.697},{"t":-0.434,"v":0.669},{"t":-0.392,"v":0.65},{"t":-0.35,"v":0.636},{"t":-0.308,"v":0.634},{"t":-0.266,"v":0.646},{"t":-0.224,"v":0.673},{"t":-0.182,"v":0.713},{"t":-0.141,"v":0.764},{"t":-0.099,"v":0.819},{"t":-0.057,"v":0.878},{"t":-0.023,"v":0.933},{"t":0,"v":0.976}],
 "hh_m": [{"t":-0.9,"v":0.919},{"t":-0.852,"v":0.916},{"t":-0.81,"v":0.909},{"t":-0.769,"v":0.898},{"t":-0.727,"v":0.878},{"t":-0.685,"v":0.854},{"t":-0.643,"v":0.827},{"t":-0.601,"v":0.795},{"t":-0.559,"v":0.764},{"t":-0.517,"v":0.732},{"t":-0.476,"v":0.701},{"t":-0.434,"v":0.671},{"t":-0.392,"v":0.65},{"t":-0.35,"v":0.638},{"t":-0.308,"v":0.634},{"t":-0.266,"v":0.643},{"t":-0.224,"v":0.672},{"t":-0.182,"v":0.713},{"t":-0.141,"v":0.761},{"t":-0.099,"v":0.819},{"t":-0.057,"v":0.878},{"t":-0.015,"v":0.945}],
 "aa_s": [{"t":-0.9,"v":3.9},{"t":-0.856,"v":4.2},{"t":-0.823,"v":6.1},{"t":-0.798,"v":8.7},{"t":-0.756,"v":11.4},{"t":-0.714,"v":13.3},{"t":-0.672,"v":15.9},{"t":-0.63,"v":17.9},{"t":-0.588,"v":19.2},{"t":-0.546,"v":19.8},{"t":-0.504,"v":22.5},{"t":-0.462,"v":25.7},{"t":-0.42,"v":29.0},{"t":-0.378,"v":31.6},{"t":-0.336,"v":33.2},{"t":-0.294,"v":33.8},{"t":-0.252,"v":32.9},{"t":-0.21,"v":30.9},{"t":-0.168,"v":26.4},{"t":-0.126,"v":19.8},{"t":-0.084,"v":10.1},{"t":-0.05,"v":0.3},{"t":-0.025,"v":-10.2},{"t":0,"v":-22.6}],
 "aa_m": [{"t":-0.9,"v":5.7},{"t":-0.856,"v":6.1},{"t":-0.814,"v":8.7},{"t":-0.773,"v":12.0},{"t":-0.731,"v":14.0},{"t":-0.689,"v":15.3},{"t":-0.647,"v":15.3},{"t":-0.605,"v":16.6},{"t":-0.563,"v":18.8},{"t":-0.537,"v":21.1},{"t":-0.504,"v":25.1},{"t":-0.462,"v":27.7},{"t":-0.42,"v":30.0},{"t":-0.378,"v":32.2},{"t":-0.336,"v":32.9},{"t":-0.294,"v":33.6},{"t":-0.252,"v":33.6},{"t":-0.21,"v":31.6},{"t":-0.168,"v":26.4},{"t":-0.126,"v":19.2},{"t":-0.084,"v":10.1},{"t":-0.05,"v":-1},{"t":-0.025,"v":-8.9},{"t":-0.004,"v":-16.7}]
},
"config": {
 "font": "Liberation Sans",
 "view": {"stroke": null},
 "axis": {"domainColor": "#000000", "domainWidth": 1.5, "tickColor": "#000000", "tickWidth": 1.5, "tickSize": -5, "labelFontSize": 23.5, "labelColor": "#000000", "labelFont": "Liberation Sans", "titleFont": "Liberation Sans", "titleFontSize": 28.5, "titleFontWeight": "normal", "titleColor": "#000000", "grid": false, "minExtent": 0, "maxExtent": 0, "labelOverlap": false, "labelFlush": false},
 "axisX": {"labelPadding": 16, "titlePadding": 49},
 "axisY": {"labelPadding": 16},
 "line": {"interpolate": "monotone"}
}
}
